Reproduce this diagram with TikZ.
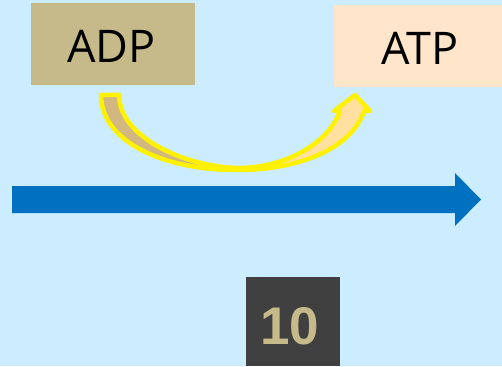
\documentclass[tikz,border=0pt]{standalone}
\usepackage{fontspec}
\setmainfont{Open Sans}
\newfontfamily\boldsans{Liberation Sans}
\definecolor{bgblue}{HTML}{CCECFF}
\definecolor{adptan}{HTML}{C6B98A}
\definecolor{atppeach}{HTML}{FFE5C9}
\definecolor{arrowblue}{HTML}{0070C0}
\definecolor{curvetan}{HTML}{D2B880}
\definecolor{curvepeach}{HTML}{FFE0A0}
\definecolor{numgray}{HTML}{404040}
\definecolor{numtan}{HTML}{C6B98A}
\begin{document}
\begin{tikzpicture}[x=1pt,y=-1pt,
  boxstyle/.style={draw=none,inner sep=0pt,anchor=north west},
  labeltext/.style={font=\fontsize{45}{50}\selectfont,text=black}]
\useasboundingbox (0,0) rectangle (502,366);
\fill[bgblue] (0,0) rectangle (502,366);
% boxes
\node[boxstyle,fill=adptan,minimum width=164pt,minimum height=82pt] (adp) at (31,3) {};
\node[labeltext] (adplabel) at (111.5,46.5) {ADP};
\node[boxstyle,fill=atppeach,minimum width=168pt,minimum height=82pt] (atp) at (334,5) {};
\node[labeltext] (atplabel) at (420,48.5) {ATP};
% blue arrow
\fill[arrowblue] (12,186) -- (455,186) -- (455,173) -- (481,199.5) -- (455,226) -- (455,213) -- (12,213) -- cycle;
% curved arrow
\def\curvepath{(101,95) -- (119,95) .. controls (119,135) and (180,166) .. (237,168)
  .. controls (290,168) and (330,140) .. (340,111) -- (334,111) -- (355,95) -- (370,111) -- (364,111)
  .. controls (352,148) and (300,170) .. (237,170) .. controls (160,170) and (101,140) .. (101,95) -- cycle}
\begin{scope}
  \clip (0,0) rectangle (237,250);
  \fill[curvetan] \curvepath;
\end{scope}
\begin{scope}
  \clip (237,0) rectangle (502,250);
  \fill[curvepeach] \curvepath;
\end{scope}
\draw[yellow,line width=4.5pt,line join=round] \curvepath;
% number box
\node[boxstyle,fill=numgray,minimum width=94pt,minimum height=89pt] (numbox) at (246,277) {};
\node[font=\boldsans\bfseries\fontsize{53}{58}\selectfont,text=numtan] (num) at (290,326.5) {10};
\end{tikzpicture}
\end{document}
